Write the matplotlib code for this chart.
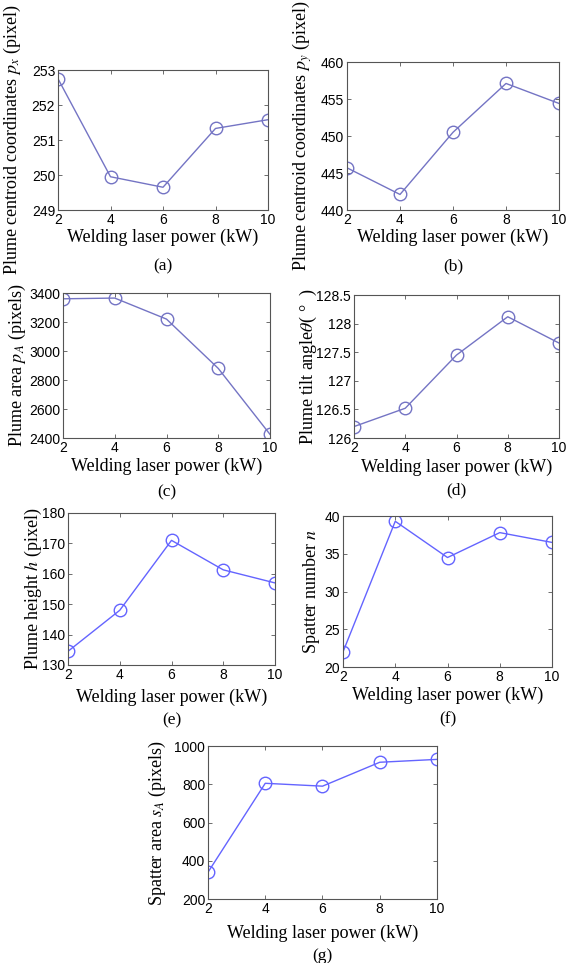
import matplotlib
matplotlib.use('Agg')
import matplotlib.pyplot as plt

plt.rcParams['mathtext.fontset'] = 'stix'
plt.rcParams['font.family'] = 'Liberation Serif'

# Data
power = [2, 4, 6, 8, 10]
px = [252.75, 249.95, 249.65, 251.33, 251.58]
py = [445.7, 442.1, 450.5, 457.1, 454.4]
area = [3360, 3365, 3220, 2880, 2425]
tilt = [126.2, 126.52, 127.45, 128.12, 127.66]
height = [134.5, 148.0, 171.0, 161.3, 157.0]
spatter_n = [22.0, 39.3, 34.5, 37.8, 36.5]
spatter_area = [340, 805, 790, 915, 930]

xticks = [2, 4, 6, 8, 10]
px_ticks = [249, 250, 251, 252, 253]
py_ticks = [440, 445, 450, 455, 460]
area_ticks = [2400, 2600, 2800, 3000, 3200, 3400]
tilt_ticks = [126, 126.5, 127, 127.5, 128, 128.5]
height_ticks = [130, 140, 150, 160, 170, 180]
n_ticks = [20, 25, 30, 35, 40]
sa_ticks = [200, 400, 600, 800, 1000]

W, H = 567, 963
fig = plt.figure(figsize=(W / 100, H / 100), dpi=100)

dull = '#7474c4'
bright = '#6464ff'

# (left, top, right, bottom) in pixels, ylabel x, xlabel y, letter y
panels = [
    ((58, 70, 268, 210), 12, 237, 266, px, px_ticks,
     'Plume centroid coordinates $p_x$ (pixel)', '(a)', dull),
    ((347, 62, 559, 210), 302, 237, 266, py, py_ticks,
     'Plume centroid coordinates $p_y$ (pixel)', '(b)', dull),
    ((63, 293, 270, 438), 17, 466, 492, area, area_ticks,
     'Plume area $p_A$ (pixels)', '(c)', dull),
    ((354, 295, 559, 438), 308, 467, 490, tilt, tilt_ticks,
     'Plume tilt angle$\\theta$( °  )', '(d)', dull),
    ((68, 513, 275, 665), 33, 697, 720, height, height_ticks,
     'Plume height $h$ (pixel)', '(e)', bright),
    ((343, 516, 552, 667), 312, 695, 719, spatter_n, n_ticks,
     'Spatter number $n$', '(f)', bright),
    ((208, 746, 437, 899), 157, 933, 956, spatter_area, sa_ticks,
     'Spatter area $s_A$ (pixels)', '(g)', bright),
]

for box, ylx, xly, lety, values, yt, ylabel, letter, color in panels:
    l, t, r, b = box
    ax = fig.add_axes([l / W, 1 - b / H, (r - l) / W, (b - t) / H])
    ax.plot(power, values, color=color, lw=1.0, marker='o', ms=9,
            mfc='none', mec=color, mew=1.0)
    ax.set_xlim(2, 10)
    ax.set_ylim(yt[0], yt[-1])
    ax.set_xticks(xticks)
    ax.set_yticks(yt)
    ax.set_yticklabels(['%g' % v for v in yt])
    ax.tick_params(direction='in', top=True, right=True, length=3,
                   width=0.6, color='#555555', labelsize=10, pad=2)
    for lab in ax.get_xticklabels() + ax.get_yticklabels():
        lab.set_family('Liberation Sans')
    for s in ax.spines.values():
        s.set_linewidth(0.8)
        s.set_color('#555555')
    fig.text(ylx / W, 1 - (t + b) / 2 / H, ylabel, rotation=90,
             ha='center', va='center', fontsize=13)
    fig.text((l + r) / 2 / W, 1 - xly / H, 'Welding laser power (kW)',
             ha='center', va='center', fontsize=13)
    fig.text((l + r) / 2 / W, 1 - lety / H, letter,
             ha='center', va='center', fontsize=12.5)

fig.savefig('out.png', dpi=100)
